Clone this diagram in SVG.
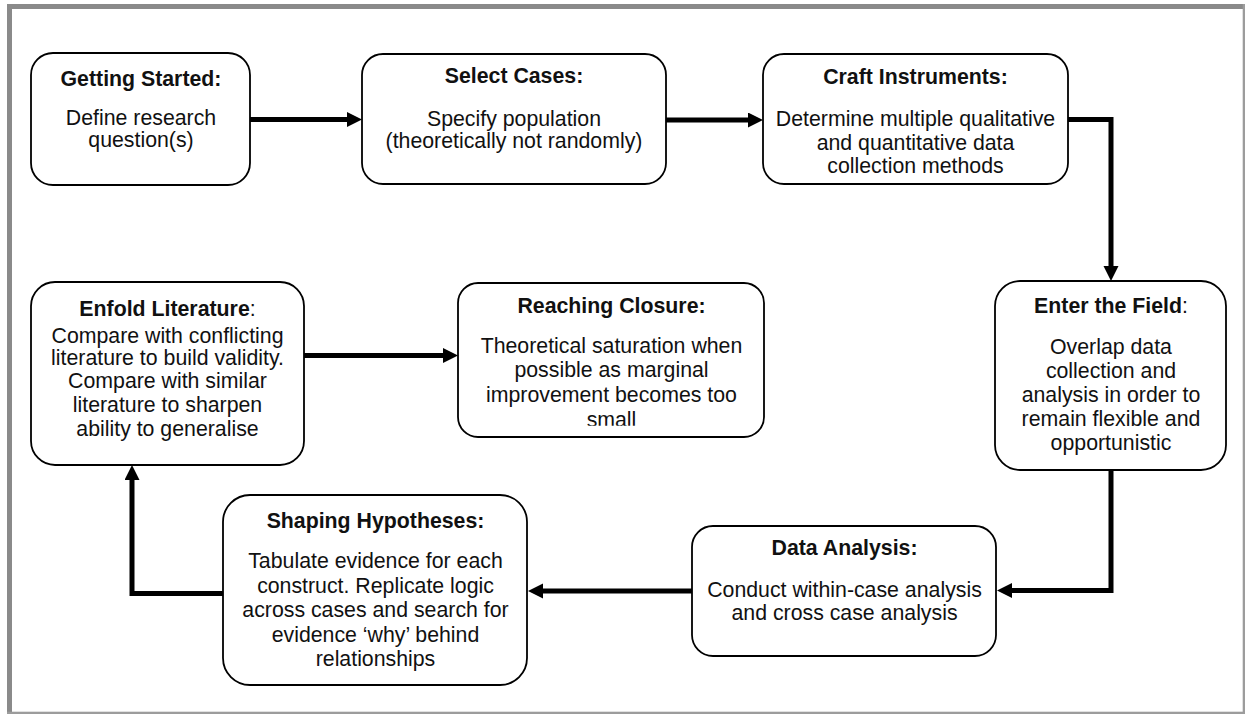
<svg xmlns="http://www.w3.org/2000/svg" width="1245" height="714" viewBox="0 0 1245 714">
  <style>
    .box { fill: #ffffff; stroke: #000000; stroke-width: 1.8; }
    .t { font-family: "Liberation Sans", Arial, Helvetica, sans-serif; font-size: 21.3px; fill: #111111; text-anchor: middle; }
    .b { font-weight: bold; }
    .n { font-weight: normal; }
    .link { fill: none; stroke: #000000; stroke-width: 5; stroke-linejoin: miter; stroke-linecap: butt; }
  </style>
  <defs>
    <marker id="arrow" markerUnits="userSpaceOnUse" markerWidth="16" markerHeight="16" refX="3" refY="7.5" orient="auto">
      <path d="M0,0 L15,7.5 L0,15 Z" fill="#000000"/>
    </marker>
    <clipPath id="closureClip">
      <rect x="458" y="283" width="306" height="142.7"/>
    </clipPath>
  </defs>

  <!-- page frame -->
  <rect x="0" y="0" width="1245" height="714" fill="#ffffff"/>
  <g id="frame">
    <rect x="7" y="4" width="1238" height="5" fill="#8a8a8a"/>
    <rect x="7" y="4" width="5" height="710" fill="#8a8a8a"/>
    <rect x="1242.7" y="4" width="2.3" height="710" fill="#9c9c9c"/>
    <rect x="7" y="711.7" width="1238" height="2.3" fill="#9c9c9c"/>
  </g>

  <!-- connectors -->
  <g id="connectors">
    <path class="link" d="M250,119.5 H350" marker-end="url(#arrow)"/>
    <path class="link" d="M666,120 H751" marker-end="url(#arrow)"/>
    <path class="link" d="M1068,119.5 H1111 V269" marker-end="url(#arrow)"/>
    <path class="link" d="M1111,470 V590.5 H1009" marker-end="url(#arrow)"/>
    <path class="link" d="M692,591 H540" marker-end="url(#arrow)"/>
    <path class="link" d="M223,593.5 H132 V477" marker-end="url(#arrow)"/>
    <path class="link" d="M304,355.5 H446" marker-end="url(#arrow)"/>
  </g>

  <g id="getting-started">
    <rect class="box" x="31" y="53" width="219" height="132" rx="22"/>
    <text class="t b" x="141" y="86">Getting Started:</text>
    <text class="t" x="141" y="125">Define research</text>
    <text class="t" x="141" y="147">question(s)</text>
  </g>

  <g id="select-cases">
    <rect class="box" x="362" y="54" width="304" height="130" rx="21"/>
    <text class="t b" x="514" y="83">Select Cases:</text>
    <text class="t" x="514" y="126">Specify population</text>
    <text class="t" x="514" y="148">(theoretically not randomly)</text>
  </g>

  <g id="craft-instruments">
    <rect class="box" x="763" y="54" width="305" height="130" rx="21"/>
    <text class="t b" x="915.5" y="84">Craft Instruments:</text>
    <text class="t" x="915.5" y="126">Determine multiple qualitative</text>
    <text class="t" x="915.5" y="150">and quantitative data</text>
    <text class="t" x="915.5" y="173">collection methods</text>
  </g>

  <g id="enter-the-field">
    <rect class="box" x="995" y="281" width="231" height="189" rx="25"/>
    <text class="t b" x="1111" y="313">Enter the Field<tspan class="n">:</tspan></text>
    <text class="t" x="1111" y="354">Overlap data</text>
    <text class="t" x="1111" y="378">collection and</text>
    <text class="t" x="1111" y="402">analysis in order to</text>
    <text class="t" x="1111" y="426">remain flexible and</text>
    <text class="t" x="1111" y="450">opportunistic</text>
  </g>

  <g id="data-analysis">
    <rect class="box" x="692" y="526" width="304" height="130" rx="21"/>
    <text class="t b" x="844.5" y="555">Data Analysis:</text>
    <text class="t" x="844.5" y="597">Conduct within-case analysis</text>
    <text class="t" x="844.5" y="620">and cross case analysis</text>
  </g>

  <g id="shaping-hypotheses">
    <rect class="box" x="223" y="495" width="304" height="190" rx="27"/>
    <text class="t b" x="375.5" y="528">Shaping Hypotheses:</text>
    <text class="t" x="375.5" y="568">Tabulate evidence for each</text>
    <text class="t" x="375.5" y="593">construct. Replicate logic</text>
    <text class="t" x="375.5" y="617">across cases and search for</text>
    <text class="t" x="375.5" y="642">evidence ‘why’ behind</text>
    <text class="t" x="375.5" y="666">relationships</text>
  </g>

  <g id="enfold-literature">
    <rect class="box" x="31" y="282" width="273" height="183" rx="24"/>
    <text class="t b" x="167.5" y="316">Enfold Literature<tspan class="n">:</tspan></text>
    <text class="t" x="167.5" y="343">Compare with conflicting</text>
    <text class="t" x="167.5" y="365">literature to build validity.</text>
    <text class="t" x="167.5" y="388">Compare with similar</text>
    <text class="t" x="167.5" y="412">literature to sharpen</text>
    <text class="t" x="167.5" y="436">ability to generalise</text>
  </g>

  <g id="reaching-closure">
    <rect class="box" x="458" y="283" width="306" height="154" rx="20"/>
    <g clip-path="url(#closureClip)">
      <text class="t b" x="611.5" y="313">Reaching Closure:</text>
      <text class="t" x="611.5" y="353">Theoretical saturation when</text>
      <text class="t" x="611.5" y="377">possible as marginal</text>
      <text class="t" x="611.5" y="402">improvement becomes too</text>
      <text class="t" x="611.5" y="427">small</text>
    </g>
  </g>
</svg>
